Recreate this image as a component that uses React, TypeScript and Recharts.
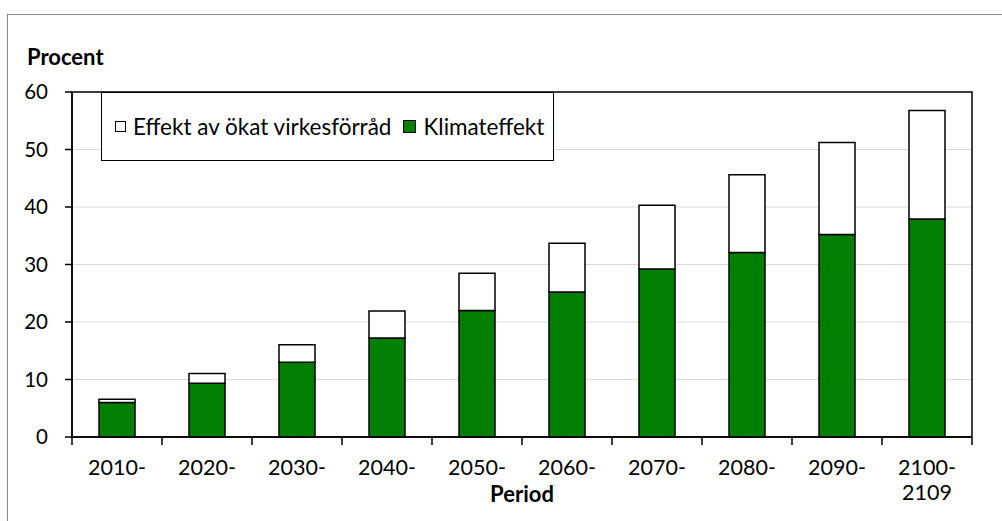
import { BarChart, Bar, XAxis, YAxis, CartesianGrid, ReferenceArea } from "recharts"

const periods = ["2010-", "2020-", "2030-", "2040-", "2050-", "2060-", "2070-", "2080-", "2090-", "2100-2109"]
const klimateffekt = [6.0, 9.35, 13.0, 17.2, 22.0, 25.2, 29.2, 32.1, 35.2, 37.9]
const virkesforrad = [0.55, 1.7, 3.05, 4.7, 6.5, 8.5, 11.1, 13.5, 16.0, 18.9]
const yTicks = [0, 10, 20, 30, 40, 50, 60]

const FONT = "Lato, 'Open Sans', sans-serif"
const W = 1002
const H = 521
const PLOT_LEFT = 72
const PLOT_RIGHT = 972
const PLOT_TOP = 92
const PLOT_BOTTOM = 437
const BAND = (PLOT_RIGHT - PLOT_LEFT) / periods.length

const data = periods.map((p, i) => ({
  period: p,
  klimat: klimateffekt[i],
  virke: virkesforrad[i]
}))

function PeriodTick(props: any) {
  const { x, payload, index } = props
  const y = PLOT_BOTTOM
  const label: string = payload.value
  const dash = label.indexOf("-")
  const first = label.slice(0, dash + 1)
  const second = label.slice(dash + 1)
  const left = x - BAND / 2
  return (
    <g>
      <line x1={left} x2={left} y1={y} y2={y + 8} stroke="#000" strokeWidth={1.5} />
      {index === periods.length - 1 && (
        <line x1={x + BAND / 2} x2={x + BAND / 2} y1={y} y2={y + 8} stroke="#000" strokeWidth={1.5} />
      )}
      <text x={x} y={y + 38} textAnchor="middle" fontSize={21.5} fill="#000" fontFamily={FONT}>
        {first}
      </text>
      {second && (
        <text x={x} y={y + 63} textAnchor="middle" fontSize={21.5} fill="#000" fontFamily={FONT}>
          {second}
        </text>
      )}
    </g>
  )
}

function LegendBox() {
  const items = [
    { name: "Effekt av ökat virkesförråd", color: "#ffffff", size: 11 },
    { name: "Klimateffekt", color: "#007f00", size: 13 }
  ]
  return (
    <div
      style={{
        position: "absolute",
        left: 101,
        top: PLOT_TOP,
        width: 453,
        height: 69,
        boxSizing: "border-box",
        border: "1px solid #000",
        background: "#fff",
        display: "flex",
        alignItems: "center",
        paddingLeft: 13,
        whiteSpace: "nowrap",
        fontFamily: FONT,
        fontSize: 22.5,
        color: "#000"
      }}
    >
      {items.map((it, i) => (
        <div
          key={it.name}
          style={{ display: "flex", alignItems: "center", flexShrink: 0, marginRight: i === 0 ? 12 : 0 }}
        >
          <span
            style={{
              display: "inline-block",
              boxSizing: "border-box",
              width: it.size,
              height: it.size,
              border: "1px solid #000",
              background: it.color,
              marginRight: 7
            }}
          />
          <span>{it.name}</span>
        </div>
      ))}
    </div>
  )
}

export default function App() {
  return (
    <div style={{ position: "absolute", left: 0, top: 0, width: W, height: H, overflow: "hidden", background: "#fff" }}>
      <div
        style={{
          position: "absolute",
          left: 7,
          top: 14,
          width: W + 50,
          height: H + 50,
          borderTop: "1.5px solid #868686",
          borderLeft: "1.5px solid #868686"
        }}
      />
      <div style={{ position: "absolute", left: 0, top: 0 }}>
        <BarChart
          width={W}
          height={H}
          data={data}
          margin={{ top: PLOT_TOP, right: W - PLOT_RIGHT, left: 0, bottom: 0 }}
          barCategoryGap={0}
        >
          <CartesianGrid vertical={false} stroke="#d9d9d9" strokeWidth={1} />
          <YAxis
            width={PLOT_LEFT}
            domain={[0, 60]}
            ticks={yTicks}
            interval={0}
            tickSize={7}
            tickMargin={17}
            axisLine={{ stroke: "#000", strokeWidth: 1.5 }}
            tickLine={{ stroke: "#000", strokeWidth: 1.5 }}
            tick={{ fontSize: 20.5, fill: "#000", fontFamily: FONT }}
          />
          <XAxis
            dataKey="period"
            height={H - PLOT_BOTTOM}
            interval={0}
            tickLine={false}
            tickSize={0}
            tickMargin={0}
            axisLine={{ stroke: "#000", strokeWidth: 1.5 }}
            tick={<PeriodTick />}
          />
          <ReferenceArea y1={0} y2={60} fill="none" stroke="#000" strokeWidth={1.5} ifOverflow="visible" />
          <Bar dataKey="klimat" name="Klimateffekt" stackId="a" fill="#007f00" stroke="#000" strokeWidth={1.5} barSize={36} isAnimationActive={false} />
          <Bar dataKey="virke" name="Effekt av ökat virkesförråd" stackId="a" fill="#ffffff" stroke="#000" strokeWidth={1.5} barSize={36} isAnimationActive={false} />
        </BarChart>
      </div>
      <LegendBox />
      <div style={{ position: "absolute", left: 27, top: 43, fontFamily: FONT, fontWeight: 700, fontSize: 22, color: "#000" }}>
        Procent
      </div>
      <div
        style={{
          position: "absolute",
          left: PLOT_LEFT,
          width: PLOT_RIGHT - PLOT_LEFT,
          top: 480,
          textAlign: "center",
          fontFamily: FONT,
          fontWeight: 700,
          fontSize: 22,
          color: "#000"
        }}
      >
        Period
      </div>
    </div>
  )
}
